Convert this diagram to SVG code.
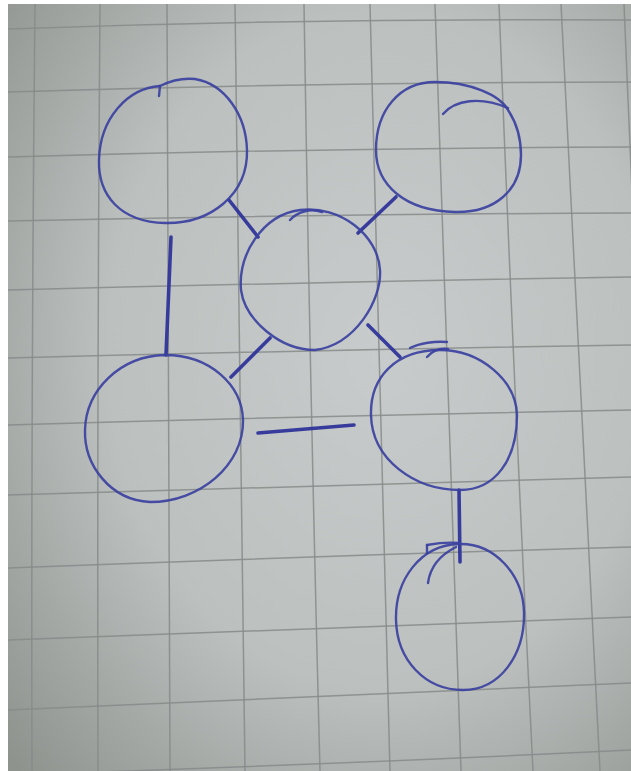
<svg xmlns="http://www.w3.org/2000/svg" width="631" height="771" viewBox="0 0 631 771">
<defs>
<radialGradient id="paper" cx="0.6" cy="0.45" r="0.8">
<stop offset="0" stop-color="#c8cbcb"/>
<stop offset="0.55" stop-color="#bcc0bf"/>
<stop offset="1" stop-color="#8e938e"/>
</radialGradient>
<style>
.grid{fill:none;stroke:#868b89;stroke-width:1.5;stroke-opacity:0.85}
.ink{fill:none;stroke:#3b41a0;stroke-width:2.4;stroke-linecap:round;stroke-linejoin:round;stroke-opacity:0.92}
.edge{fill:none;stroke:#2f359a;stroke-width:3.6;stroke-linecap:round;stroke-opacity:0.95}
</style>
</defs>
<rect x="0" y="0" width="631" height="771" fill="#ffffff"/>
<rect x="8" y="4" width="623" height="767" fill="url(#paper)"/>
<g id="grid">
<path class="grid" d="M8,29 Q320,18 631,20"/>
<path class="grid" d="M8,92 Q320,82 631,82"/>
<path class="grid" d="M8,157 Q320,148 631,147"/>
<path class="grid" d="M8,221 Q320,214 631,213"/>
<path class="grid" d="M8,290 Q320,282 631,277"/>
<path class="grid" d="M8,358 Q320,350 631,345"/>
<path class="grid" d="M8,425 Q320,416 631,410"/>
<path class="grid" d="M8,495 Q320,485 631,477"/>
<path class="grid" d="M8,568 Q320,556 631,547"/>
<path class="grid" d="M8,640 Q320,628 631,617"/>
<path class="grid" d="M8,710 Q320,697 631,683"/>
<path class="grid" d="M8,775 Q320,765 631,750"/>
<path class="grid" d="M35,4 Q31,390 32,771"/>
<path class="grid" d="M100,4 Q97,390 98,771"/>
<path class="grid" d="M167,4 Q167,390 170,771"/>
<path class="grid" d="M235,4 Q240,390 245,771"/>
<path class="grid" d="M304,4 Q310,390 320,771"/>
<path class="grid" d="M370,4 Q381,390 390,771"/>
<path class="grid" d="M435,4 Q448,390 461,771"/>
<path class="grid" d="M499,4 Q514,390 533,771"/>
<path class="grid" d="M561,4 Q582,390 600,771"/>
<path class="grid" d="M624,4 Q640,390 660,771"/>
</g>
<g id="connectors">
<path class="edge" d="M229,200 L258,237"/>
<path class="edge" d="M396,197 L358,233"/>
<path class="edge" d="M171,237 L166,355"/>
<path class="edge" d="M270,338 L231,377"/>
<path class="edge" d="M368,325 L400,357"/>
<path class="edge" d="M258,433 L354,425"/>
<path class="edge" d="M459,490 L460,562"/>
</g>
<g id="node-top-left">
<path class="ink" d="M247,150 C248,195 210,224 165,223 C120,222 98,195 99,160 C100,118 128,88 160,86 C172,80 185,78 195,79 C225,84 246,115 247,150 Z"/>
<path class="ink" d="M160,86 L159,96"/>
</g>
<g id="node-top-right">
<path class="ink" d="M521,155 C521,190 495,213 455,212 C405,211 376,185 376,150 C376,110 400,82 435,82 C470,82 500,95 508,110 C518,125 521,140 521,155"/>
<path class="ink" d="M443,114 C455,100 480,96 508,108"/>
</g>
<g id="node-center">
<path class="ink" d="M380,270 C382,300 355,345 315,350 C280,350 245,320 241,290 C238,255 262,215 300,210 C340,205 378,235 380,270 Z"/>
<path class="ink" d="M290,220 C297,212 310,208 322,212"/>
</g>
<g id="node-bottom-left">
<path class="ink" d="M243,420 C244,465 200,502 150,502 C110,500 84,465 85,430 C86,390 120,356 165,355 C210,355 242,385 243,420 Z"/>
</g>
<g id="node-middle-right">
<path class="ink" d="M517,415 C517,460 495,490 460,490 C415,490 372,460 371,415 C370,378 395,350 440,350 C480,350 516,380 517,415 Z"/>
<path class="ink" d="M410,348 C420,343 435,341 447,342"/>
<path class="ink" d="M427,357 C433,350 440,348 448,349"/>
</g>
<g id="node-bottom">
<path class="ink" d="M524,612 C525,655 500,690 463,690 C425,690 397,660 396,620 C395,580 420,545 459,544 C495,543 523,575 524,612 Z"/>
<path class="ink" d="M427,545 C438,543 450,542 460,543"/>
<path class="ink" d="M427,545 L427,553"/>
<path class="ink" d="M428,583 C430,568 440,555 456,547"/>
</g>
</svg>
